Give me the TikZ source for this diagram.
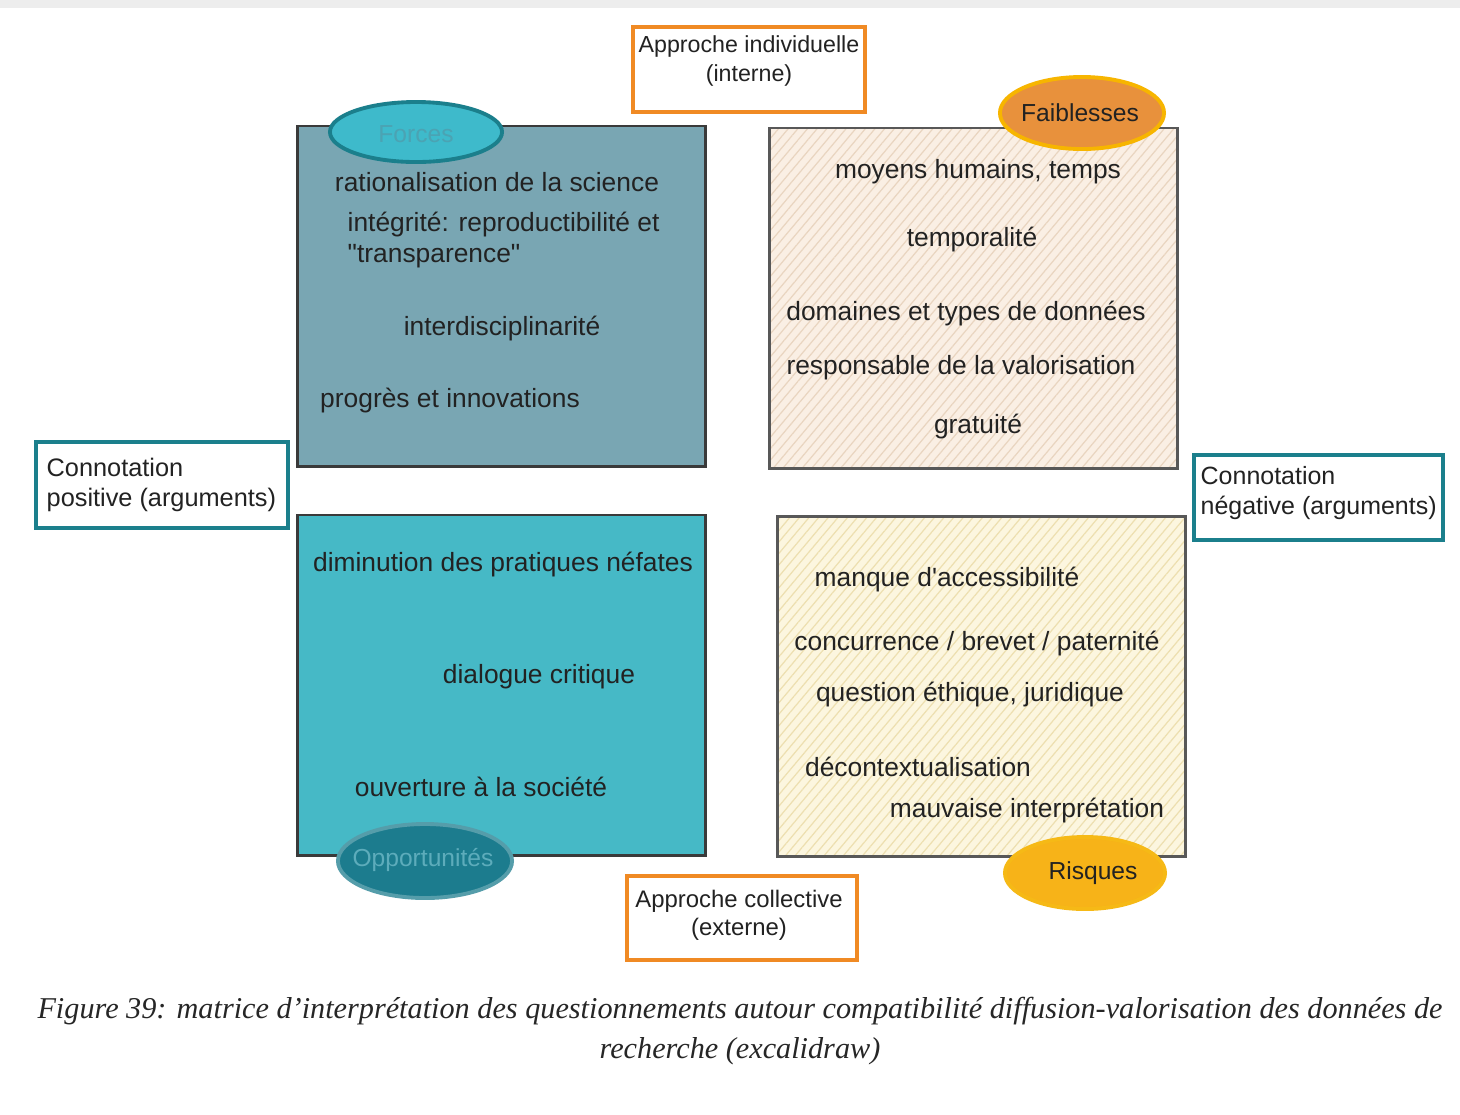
\documentclass[tikz,border=0pt]{standalone}
\usepackage{fontspec}
\setmainfont{Liberation Serif}
\setsansfont{Liberation Sans}
\usepackage{tikz}
\usetikzlibrary{patterns.meta}

\definecolor{forcesfill}{HTML}{79A6B3}
\definecolor{opportfill}{HTML}{46B9C6}
\definecolor{faiblfill}{HTML}{FAEFE4}
\definecolor{faiblhatch}{HTML}{E9D5C0}
\definecolor{risqfill}{HTML}{FCF6DF}
\definecolor{risqhatch}{HTML}{EDDFB0}
\definecolor{cyanlbl}{HTML}{3EBACB}
\definecolor{tealline}{HTML}{1B7F8C}
\definecolor{darkteal}{HTML}{1C7C8E}
\definecolor{paleteal}{HTML}{4BA3B3}
\definecolor{orangelbl}{HTML}{E8913C}
\definecolor{yellowline}{HTML}{F7B500}
\definecolor{yellowlbl}{HTML}{F7B318}
\definecolor{orangeline}{HTML}{F08A24}
\definecolor{boxline}{HTML}{3A3A3A}
\definecolor{inkcol}{HTML}{222222}

\tikzset{
	quadbox/.style={draw=boxline, line width=0.8pt, minimum width=4.07cm, minimum height=3.4cm, inner sep=0pt},
	hatched/.style={fill=#1fill, draw=none, postaction={pattern={Lines[angle=50, distance=2.1pt, line width=0.35pt]}, pattern color=#1hatch}, postaction={draw=boxline!85, line width=0.8pt}},
	tag/.style={line width=1.1pt},
	tagtext/.style={font=\sffamily\fontsize{7}{8}\selectfont, inner sep=0pt},
	item/.style={font=\sffamily\fontsize{7.5}{8.6}\selectfont, text=inkcol, inner sep=0pt},
	axisbox/.style={draw=#1, line width=1.2pt, fill=white, inner sep=0pt},
}

\begin{document}
\begin{tikzpicture}[x=0.01cm, y=-0.01cm]
				\useasboundingbox (0,0) rectangle (1460,1114);
				\fill[white] (0,0) rectangle (1460,1114);
				\fill[black!7] (0,0) rectangle (1460,8);
				
				% quadrants
				\node[quadbox, fill=forcesfill] (forces) at (501.5,296) {};
				\node[quadbox, hatched=faibl] (faibl) at (973.5,298) {};
				\node[quadbox, fill=opportfill] (opport) at (501.5,685) {};
				\node[quadbox, hatched=risq] (risq) at (981.5,686.5) {};
				
				% axes
				\draw[axisbox=orangeline] (633,27) rectangle (865,112);
				\node[item, align=center, font=\sffamily\fontsize{6.6}{8}\selectfont] (indiv) at (749,61) {Approche individuelle\\(interne)};
				\draw[axisbox=orangeline] (627,876) rectangle (857,960);
				\node[item, align=center, font=\sffamily\fontsize{6.8}{8}\selectfont] (collect) at (739,915) {Approche collective\\(externe)};
				\draw[axisbox=tealline] (36,442) rectangle (288,528);
				\node[item, align=left, anchor=west, font=\sffamily\fontsize{7.2}{8.4}\selectfont] (posit) at (46,485) {Connotation\\positive (arguments)};
				\draw[axisbox=tealline] (1194,455) rectangle (1443,540);
				\node[item, align=left, anchor=west, font=\sffamily\fontsize{7.1}{8.4}\selectfont] (negat) at (1200,493) {Connotation\\négative (arguments)};
				
				% labels
				\draw[tag, fill=cyanlbl, draw=tealline] (416,132) ellipse (0.86cm and 0.30cm);
				\node[tagtext, text=paleteal] (forceslbl) at (416,134) {Forces};
				\draw[tag, fill=orangelbl, draw=yellowline] (1082,113) ellipse (0.82cm and 0.36cm);
				\node[tagtext, text=inkcol] (faibllbl) at (1080,113) {Faiblesses};
				\draw[tag, fill=darkteal, draw=darkteal!75!white] (425,861) ellipse (0.87cm and 0.37cm);
				\node[tagtext, text=paleteal!90!white] (opportlbl) at (423,860) {Opportunités};
				\draw[tag, fill=yellowlbl, draw=orangeline!60!yellow] (1085,873) ellipse (0.80cm and 0.36cm);
				\node[tagtext, text=inkcol] (risqlbl) at (1093,873) {Risques};
				
				% Forces
				\node[item] (f1) at (497,182) {rationalisation de la science};
				\node[item, align=left, anchor=west] (f2) at (347,240) {intégrité: reproductibilité et\\\textquotedbl transparence\textquotedbl};
				\node[item] (f3) at (502,329) {interdisciplinarité};
				\node[item] (f4) at (450,401) {progrès et innovations};
				
				% Faiblesses
				\node[item] (w1) at (978,172) {moyens humains, temps};
				\node[item] (w2) at (972,240) {temporalité};
				\node[item] (w3) at (966,314) {domaines et types de données};
				\node[item] (w4) at (961,368) {responsable de la valorisation};
				\node[item] (w5) at (978,427) {gratuité};
				
				% Opportunites
				\node[item] (o1) at (503,565) {diminution des pratiques néfates};
				\node[item] (o2) at (539,677) {dialogue critique};
				\node[item] (o3) at (481,787) {ouverture à la société};
				
				% Risques
				\node[item] (r1) at (947,580) {manque d\textquotesingle accessibilité};
				\node[item] (r2) at (977,644) {concurrence / brevet / paternité};
				\node[item] (r3) at (970,695) {question éthique, juridique};
				\node[item] (r4) at (918,767) {décontextualisation};
				\node[item] (r5) at (1027,811) {mauvaise interprétation};
				
				\node[font=\itshape\fontsize{8.6}{11.3}\selectfont, align=center, text=black!85, inner sep=0pt] (caption) at (740,1031) {Figure 39: matrice d'interprétation des questionnements autour compatibilité diffusion-valorisation des données de\\recherche (excalidraw)};
			\end{tikzpicture}
\end{document}
